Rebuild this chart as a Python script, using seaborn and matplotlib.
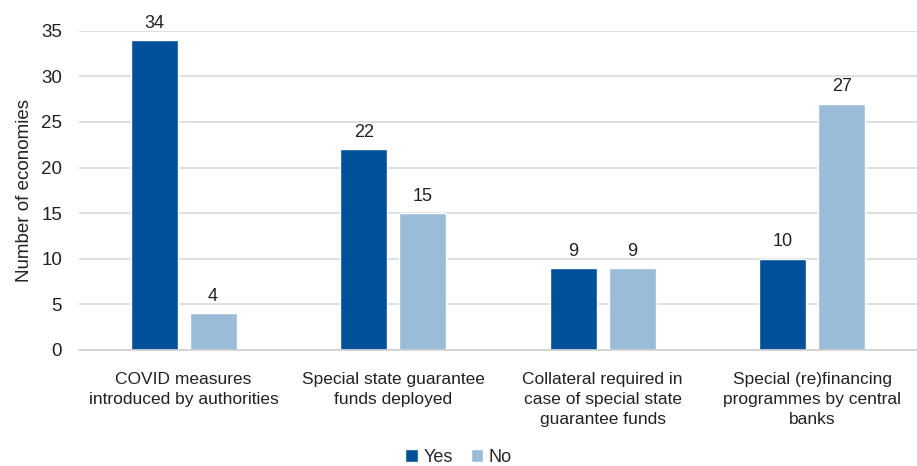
import matplotlib
matplotlib.use("Agg")
import matplotlib.pyplot as plt
import seaborn as sns
import pandas as pd

categories = [
    "COVID measures\nintroduced by authorities",
    "Special state guarantee\nfunds deployed",
    "Collateral required in\ncase of special state\nguarantee funds",
    "Special (re)financing\nprogrammes by central\nbanks",
]
yes_values = [34, 22, 9, 10]
no_values = [4, 15, 9, 27]
series = ["Yes", "No"]
colors = ["#00509a", "#9bbcd9"]

df = pd.DataFrame({
    "category": categories * 2,
    "answer": ["Yes"] * len(categories) + ["No"] * len(categories),
    "value": yes_values + no_values,
})

sns.set_theme(style="white")
plt.rcParams["font.family"] = ["Liberation Sans", "DejaVu Sans"]

fig = plt.figure(figsize=(9.17, 4.66), dpi=100)
ax = fig.add_axes([0.086, 0.249, 0.914, 0.685])

sns.barplot(data=df, x="category", y="value", hue="answer", hue_order=series,
            palette=colors, width=0.562, gap=0.2, saturation=1, ax=ax,
            legend=True)

for cont in ax.containers:
    ax.bar_label(cont, fmt="%d", padding=6, fontsize=13, color="#222222")

ax.set_ylim(0, 35)
ax.set_yticks(range(0, 36, 5))
ax.set_xlim(-0.5, 3.5)
ax.yaxis.grid(True, color="#d9d9d9", linewidth=1.2)
ax.set_axisbelow(True)
for s in ["top", "right", "left"]:
    ax.spines[s].set_visible(False)
ax.spines["bottom"].set_color("#d0d0d0")
ax.spines["bottom"].set_linewidth(1.2)
ax.tick_params(axis="y", labelsize=13.5, colors="#222222", length=0, pad=12)
ax.tick_params(axis="x", labelsize=12.5, colors="#222222", length=0, pad=16)
for lab in ax.get_xticklabels():
    lab.set_linespacing(1.4)
ax.set_xlabel("")
ax.set_ylabel("Number of economies", fontsize=13.5, color="#222222", labelpad=6)

handles, labels = ax.get_legend_handles_labels()
ax.legend_.remove()
fig.legend(handles, labels, loc="center", bbox_to_anchor=(0.5, 0.018), ncol=2,
           frameon=False, fontsize=13, handlelength=0.7, handleheight=0.7,
           handletextpad=0.3, columnspacing=1.0)

fig.savefig("out.png", dpi=100)
